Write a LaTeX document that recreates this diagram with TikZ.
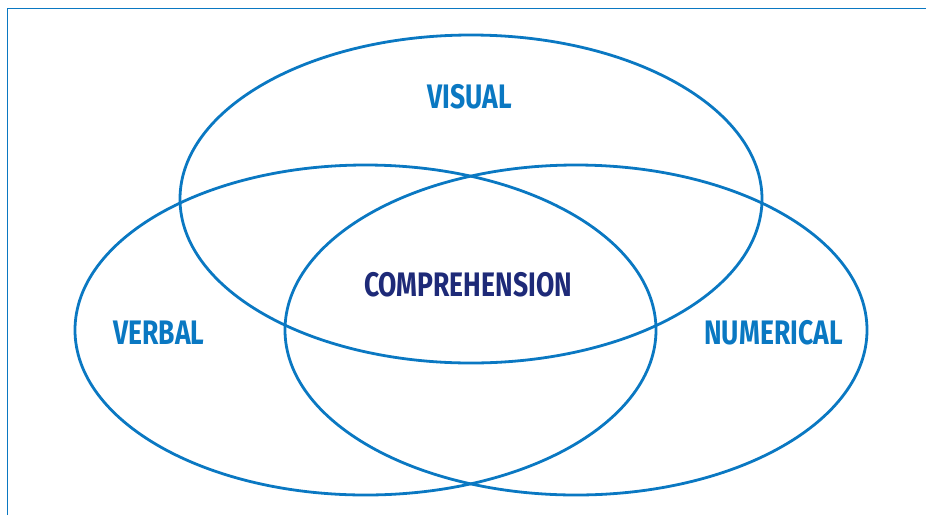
\documentclass[tikz,border=0pt]{standalone}
\usepackage{fontspec}
\setmainfont{Fira Sans}[FakeStretch=0.78]
\definecolor{ringblue}{HTML}{0A78C2}
\definecolor{labelblue}{HTML}{0A78C2}
\definecolor{navy}{HTML}{1E2A78}
\begin{document}
\begin{tikzpicture}[x=1pt,y=-1pt,
  ring/.style={draw=ringblue,line width=2.8pt},
  lbl/.style={font=\fontsize{34}{36}\selectfont\bfseries,text=labelblue,inner sep=0pt},
  core/.style={lbl,text=navy}]
  \useasboundingbox (0,0) rectangle (926,515);
  % open frame along the top and left edges
  \draw[ringblue,line width=1.6pt] (7.5,515) -- (7.5,8.5) -- (926,8.5);
  % three overlapping sets
  \draw[ring] (471,199) ellipse [x radius=291,y radius=164];
  \draw[ring] (365.5,330) ellipse [x radius=290.5,y radius=165];
  \draw[ring] (576,330) ellipse [x radius=291,y radius=165];
  % set labels
  \node[lbl]  (visual) at (469.5,97) {VISUAL};
  \node[lbl]  (verbal) at (159,333) {VERBAL};
  \node[lbl]  (numer)  at (773.5,333) {NUMERICAL};
  \node[core] (comp)   at (468,285) {COMPREHENSION};
\end{tikzpicture}
\end{document}
